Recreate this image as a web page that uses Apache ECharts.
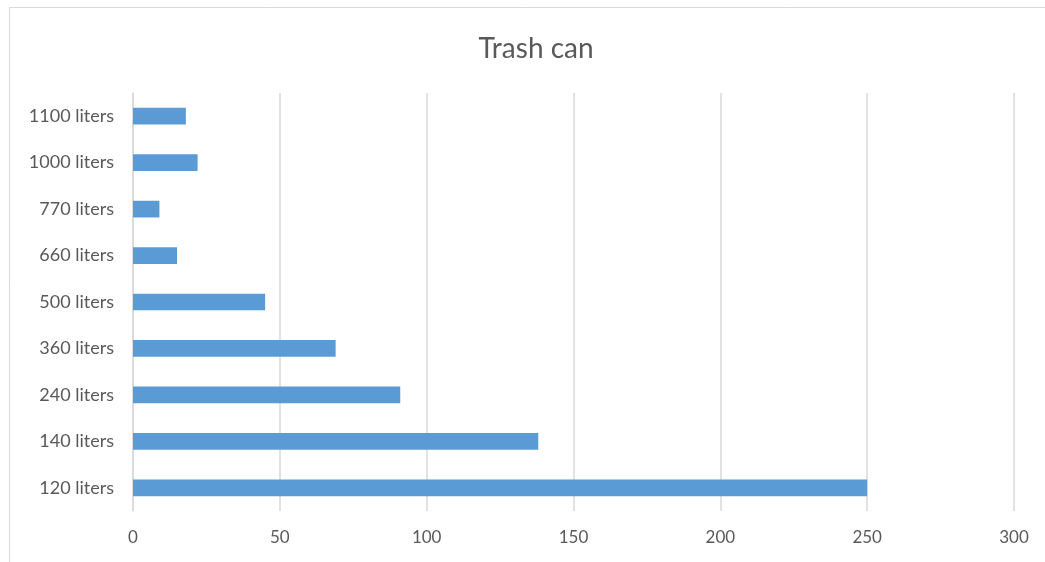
<!DOCTYPE html>
<html>
<head>
<meta charset="utf-8">
<script src="https://cdn.jsdelivr.net/npm/echarts@6/dist/echarts.min.js"></script>
<style>
    html, body { margin: 0; padding: 0; background: #fff; }
    #main { width: 1045px; height: 562px; }
</style>
</head>
<body>
<div id="main"></div>
<script>
    // bottom to top, as in the picture
    var sizes = ['120 liters', '140 liters', '240 liters', '360 liters', '500 liters',
        '660 liters', '770 liters', '1000 liters', '1100 liters'];
    var counts = [250, 138, 91, 69, 45, 15, 9, 22, 18];
    var ticks = [0, 50, 100, 150, 200, 250, 300];

    var textColor = '#595959';
    var lineColor = '#d9d9d9';
    var font = 'Lato, "Open Sans", sans-serif';

    var chart = echarts.init(document.getElementById('main'));
    chart.setOption({
        animation: false,
        title: {
            text: 'Trash can',
            left: 531,
            top: 27,
            textAlign: 'center',
            textStyle: { fontFamily: font, fontSize: 28, fontWeight: 'normal', color: textColor, lineHeight: 34 }
        },
        graphic: [{
            type: 'rect',
            shape: { x: 9.5, y: 7.5, width: 1100, height: 600 },
            style: { fill: null, stroke: lineColor, lineWidth: 1 },
            silent: true
        }],
        grid: { left: 133, right: 31, top: 93, bottom: 51 },
        xAxis: {
            type: 'value',
            min: ticks[0],
            max: ticks[ticks.length - 1],
            interval: 50,
            axisLine: { show: false },
            axisTick: { show: false },
            splitLine: { lineStyle: { color: lineColor, width: 1.5 } },
            axisLabel: { color: textColor, fontFamily: font, fontSize: 17, margin: 18 }
        },
        yAxis: {
            type: 'category',
            data: sizes,
            axisLine: { lineStyle: { color: lineColor, width: 1.5 } },
            axisTick: { show: false },
            axisLabel: { color: textColor, fontFamily: font, fontSize: 18, margin: 19 }
        },
        series: [{
            type: 'bar',
            data: counts,
            barWidth: '36%',
            itemStyle: { color: '#5b9bd5' }
        }]
    });
</script>
</body>
</html>
